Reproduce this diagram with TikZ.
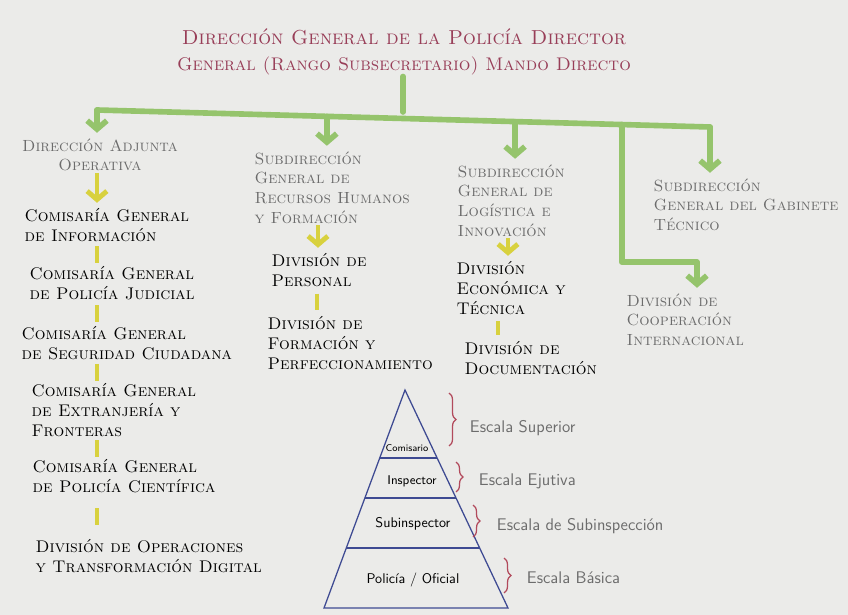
\documentclass[tikz,border=0pt]{standalone}
\usepackage{fontspec}
\usepackage{tikz}
\usetikzlibrary{arrows.meta,calc,decorations.pathreplacing}
\usepackage{xcolor}
\definecolor{paper}{HTML}{EBEBE9}
\definecolor{titlered}{HTML}{983E58}
\definecolor{leafgreen}{HTML}{95C46C}
\definecolor{markeryellow}{HTML}{D8D13E}
\definecolor{pengray}{HTML}{6C6C6C}
\definecolor{penblue}{HTML}{3E4A92}
\definecolor{bracered}{HTML}{B24A5C}
\newcommand{\headFont}{\scshape\fontsize{11.5}{14}\selectfont}
\newcommand{\unitFont}{\scshape\large}

\begin{document}
\begin{tikzpicture}[x=0.025cm, y=-0.025cm,
  titletext/.style={text=titlered, font=\scshape\Large, align=center, inner sep=1pt},
  head/.style={text=pengray, font=\headFont, align=left, inner sep=1pt, anchor=north west},
  unit/.style={text=black, font=\unitFont, align=left, inner sep=1pt, anchor=north west},
  branch/.style={draw=leafgreen, line width=4pt, line cap=round, line join=round},
  greenarrow/.style={branch, -{Straight Barb[length=6pt,width=14pt]}, shorten >=3pt},
  link/.style={draw=markeryellow, line width=3.5pt},
  yellowarrow/.style={link, -{Straight Barb[length=6pt,width=14pt]}, shorten >=3pt},
  pen/.style={draw=penblue, line width=0.9pt},
  rank/.style={text=black, font=\sffamily},
  brace/.style={draw=bracered, line width=0.9pt, decorate, decoration={brace, amplitude=5pt}},
  escala/.style={text=pengray, font=\sffamily\large, anchor=west}]
\fill[paper] (0,0) rectangle (848,615);
\useasboundingbox (0,0) rectangle (848,615);

\node[titletext] (title) at (404,52) {Dirección General de la Policía Director\\{\fontsize{13}{16}\selectfont General (Rango Subsecretario) Mando Directo}};

\node[head, anchor=north, align=center] (dao) at (100,137) {Dirección Adjunta\\Operativa};
\node[head] (sgrh) at (253,150) {Subdirección\\General de\\Recursos Humanos\\y Formación};
\node[head] (sgli) at (456,163) {Subdirección\\General de\\Logística e\\Innovación};
\node[head] (sggt) at (652,177) {Subdirección\\General del Gabinete\\Técnico};
\node[head] (dci) at (625,292) {División de\\Cooperación\\Internacional};

\node[unit] (cgi) at (23,207) {Comisaría General\\de Información};
\node[unit] (cgpj) at (28,265) {Comisaría General\\de Policía Judicial};
\node[unit] (cgsc) at (20,325) {Comisaría General\\de Seguridad Ciudadana};
\node[unit] (cgef) at (30,382) {Comisaría General\\de Extranjería y\\Fronteras};
\node[unit] (cgpc) at (31,458) {Comisaría General\\de Policía Científica};
\node[unit] (dotd) at (34,538) {División de Operaciones\\y Transformación Digital};

\node[unit] (dp) at (270,252) {División de\\Personal};
\node[unit] (dfp) at (266,315) {División de\\Formación y\\Perfeccionamiento};

\node[unit] (det) at (455,260) {División\\Económica y\\Técnica};
\node[unit] (dd) at (463,340) {División de\\Documentación};

\coordinate (trunk) at (403,112);
\coordinate (bar west) at (97,110);
\coordinate (bar east) at (710,127);
\coordinate (drop rh) at ($(bar west)!0.375!(bar east)$);
\coordinate (drop li) at ($(bar west)!0.682!(bar east)$);
\coordinate (drop ci) at ($(bar west)!0.856!(bar east)$);
\coordinate (elbow) at (697,262);

\draw[branch] (title.south -| trunk) -- (trunk);
\draw[branch] (bar west) -- (bar east);
\draw[greenarrow] (bar west) -- (bar west |- dao.north);
\draw[greenarrow] (drop rh) -- (drop rh |- sgrh.north);
\draw[greenarrow] (drop li) -- (drop li |- sgli.north);
\draw[greenarrow] (bar east) -- (bar east |- sggt.north);
\draw[greenarrow] (drop ci) |- (elbow) -- (elbow |- dci.north);

\coordinate (spine) at (97,0);
\draw[yellowarrow] (dao.south -| spine) -- (cgi.north -| spine);
\foreach \upper/\lower in {cgi/cgpj, cgpj/cgsc, cgsc/cgef, cgef/cgpc, cgpc/dotd}
  \draw[link] ($(\upper.south -| spine)!0.5!(\lower.north -| spine)$) ++(0,-8) -- ++(0,17);

\draw[yellowarrow] (sgrh.south -| 318,0) -- (dp.north -| 318,0);
\draw[link] ($(dp.south -| 317,0)!0.5!(dfp.north -| 317,0)$) ++(0,-8) -- ++(0,16);
\draw[yellowarrow] (sgli.south -| 508,0) -- (det.north -| 508,0);
\draw[link] ($(det.south -| 498,0)!0.5!(dd.north -| 498,0)$) ++(0,-7) -- ++(0,14);

\coordinate (apex) at (405,390);
\coordinate (base west) at (324,608);
\coordinate (base east) at (508,608);
\draw[pen] (apex) -- (base east) -- (base west) -- cycle;
\foreach \f in {0.312,0.495,0.725}
  \draw[pen] ($(apex)!\f!(base west)$) -- ($(apex)!\f!(base east)$);

\node[rank, font=\sffamily\scriptsize] (comisario) at (407,448) {Comisario};
\node[rank, font=\sffamily\small] (inspector) at (412,481) {Inspector};
\node[rank] (subinspector) at (413,524) {Subinspector};
\node[rank] (policia) at (413,580) {Policía / Oficial};

\draw[brace] (449,393) -- (449,446);
\node[escala] (superior) at (465,428) {Escala Superior};
\draw[brace] (456,462) -- (456,492);
\node[escala] (ejutiva) at (474,481) {Escala Ejutiva};
\draw[brace] (473,505) -- (473,537);
\node[escala] (subinspeccion) at (492,526) {Escala de Subinspección};
\draw[brace] (504,558) -- (504,593);
\node[escala] (basica) at (522,578) {Escala Básica};
\end{tikzpicture}
\end{document}
